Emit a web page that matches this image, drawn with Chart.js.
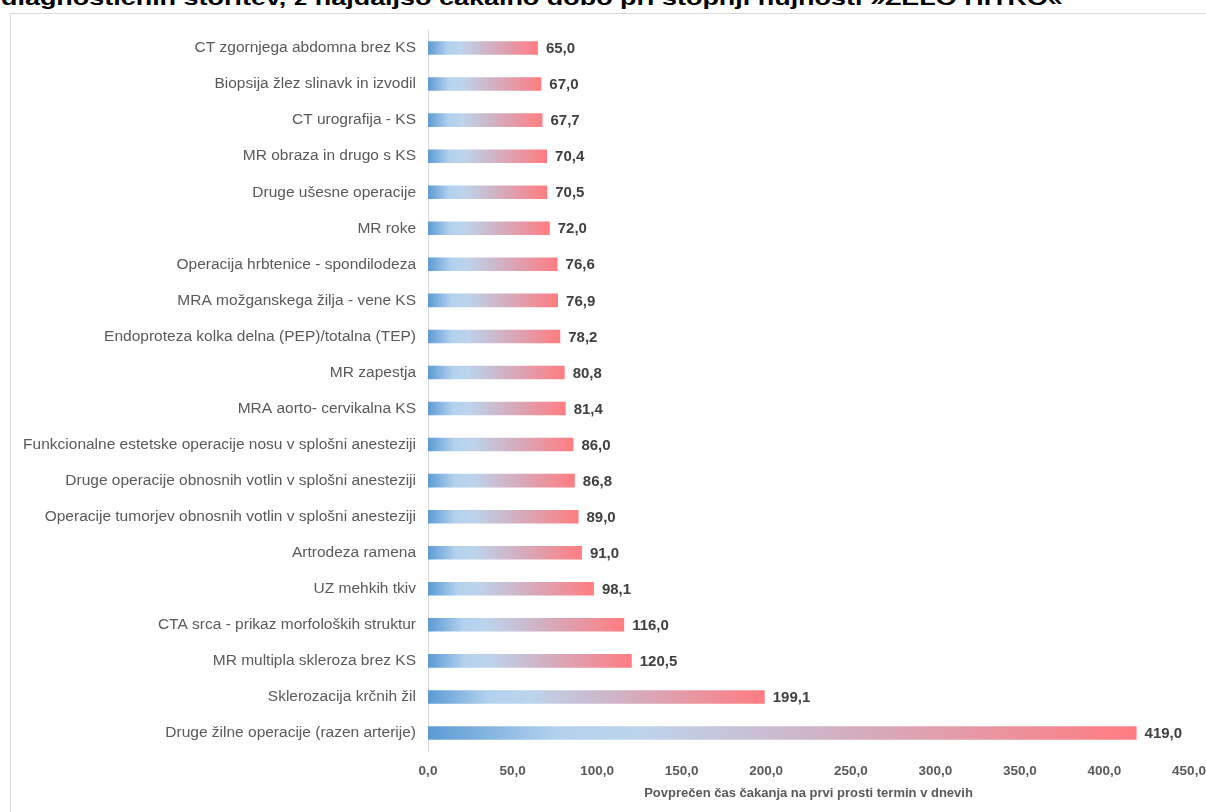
<!DOCTYPE html>
<html>
<head>
<meta charset="utf-8">
<script src="https://cdn.jsdelivr.net/npm/chart.js@4"></script>
<style>
  html, body { margin: 0; padding: 0; background: #fff; width: 1206px; height: 812px; overflow: hidden; }
  #title { position: absolute; left: 1px; top: -12px; white-space: nowrap; font-family: "Liberation Sans", Arial, sans-serif; font-weight: bold; font-size: 20px; line-height: 20px; color: #000; transform-origin: 0 0; }
  #frame { position: absolute; left: 10px; top: 13px; width: 1220px; height: 820px; border: 1px solid #d9d9d9; box-sizing: border-box; }
  #wrap { position: absolute; left: 0; top: 0; width: 1206px; height: 812px; }
</style>
</head>
<body>
<div id="title">diagnostičnih storitev, z najdaljšo čakalno dobo pri stopnji nujnosti »ZELO HITRO«</div>
<div id="frame"></div>
<div id="wrap"><canvas id="c"></canvas></div>
<script>
const categories = [
  "CT zgornjega abdomna brez KS",
  "Biopsija žlez slinavk in izvodil",
  "CT urografija - KS",
  "MR obraza in drugo s KS",
  "Druge ušesne operacije",
  "MR roke",
  "Operacija hrbtenice - spondilodeza",
  "MRA možganskega žilja - vene KS",
  "Endoproteza kolka delna (PEP)/totalna (TEP)",
  "MR zapestja",
  "MRA aorto- cervikalna KS",
  "Funkcionalne estetske operacije nosu v splošni anesteziji",
  "Druge operacije obnosnih votlin v splošni anesteziji",
  "Operacije tumorjev obnosnih votlin v splošni anesteziji",
  "Artrodeza ramena",
  "UZ mehkih tkiv",
  "CTA srca - prikaz morfoloških struktur",
  "MR multipla skleroza brez KS",
  "Sklerozacija krčnih žil",
  "Druge žilne operacije (razen arterije)"
];
const waitDays = [65.0, 67.0, 67.7, 70.4, 70.5, 72.0, 76.6, 76.9, 78.2, 80.8, 81.4, 86.0, 86.8, 89.0, 91.0, 98.1, 116.0, 120.5, 199.1, 419.0];
const axisTitle = "Povprečen čas čakanja na prvi prosti termin v dnevih";
const xMax = 450;
const xStep = 50;

// fit title width
(function(){
  const t = document.getElementById('title');
  const w = t.getBoundingClientRect().width;
  t.style.transform = 'scaleX(' + (1062 / w) + ')';
})();

const fmt = v => v.toFixed(1).replace('.', ',');

// per-bar horizontal gradient, built from each bar's own pixel extent
const barGradients = {
  id: 'barGradients',
  beforeDatasetsDraw(chart) {
    const meta = chart.getDatasetMeta(0);
    meta.data.forEach(el => {
      const x0 = el.base, x1 = el.x;
      if (!isFinite(x0) || !isFinite(x1) || x1 - x0 < 1) return;
      const g = chart.ctx.createLinearGradient(x0, 0, x1, 0);
      g.addColorStop(0, '#5b9bd5');
      g.addColorStop(0.18, '#b3d1ed');
      g.addColorStop(0.3, '#bcd4ec');
      g.addColorStop(0.6, '#d4adbf');
      g.addColorStop(1, '#ff7c80');
      el.options = Object.assign({}, el.options, { backgroundColor: g });
    });
  }
};

const valueLabels = {
  id: 'valueLabels',
  afterDatasetsDraw(chart) {
    const ctx = chart.ctx;
    const meta = chart.getDatasetMeta(0);
    ctx.save();
    ctx.font = 'bold 15px "Liberation Sans", Arial, sans-serif';
    ctx.fillStyle = '#404040';
    ctx.textBaseline = 'middle';
    ctx.textAlign = 'left';
    meta.data.forEach((el, i) => {
      ctx.fillText(fmt(waitDays[i]), el.x + 8, el.y + 1);
    });
    ctx.restore();
  }
};

const ctx = document.getElementById('c').getContext('2d');
new Chart(ctx, {
  type: 'bar',
  data: {
    labels: categories,
    datasets: [{
      data: waitDays,
      backgroundColor: '#5b9bd5',
      borderWidth: 0,
      barPercentage: 0.8,
      categoryPercentage: 0.47
    }]
  },
  options: {
    indexAxis: 'y',
    responsive: true,
    maintainAspectRatio: false,
    animation: false,
    layout: { padding: { top: 30, right: 17, bottom: 0, left: 0 } },
    plugins: { legend: { display: false }, tooltip: { enabled: false } },
    scales: {
      y: {
        grid: { display: false, drawTicks: false },
        border: { display: true, color: '#d9d9d9', width: 1 },
        ticks: {
          padding: 12,
          color: '#595959',
          font: { family: '"Liberation Sans", Arial, sans-serif', size: 15.5 }
        },
        afterFit(scale) { scale.width = 428; }
      },
      x: {
        min: 0,
        max: xMax,
        grid: { display: false, drawTicks: false },
        border: { display: false },
        ticks: {
          stepSize: xStep,
          padding: 12,
          color: '#595959',
          font: { family: '"Liberation Sans", Arial, sans-serif', size: 13.5, weight: 'bold' },
          maxRotation: 0,
          callback: v => fmt(v)
        },
        title: {
          display: true,
          text: axisTitle,
          color: '#595959',
          font: { family: '"Liberation Sans", Arial, sans-serif', size: 13, weight: 'bold' },
          padding: { top: 0, bottom: 11 }
        },
        afterFit(scale) { scale.height = 61; scale.paddingRight = 0; scale.paddingLeft = 0; }
      }
    }
  },
  plugins: [barGradients, valueLabels]
});
</script>
</body>
</html>
